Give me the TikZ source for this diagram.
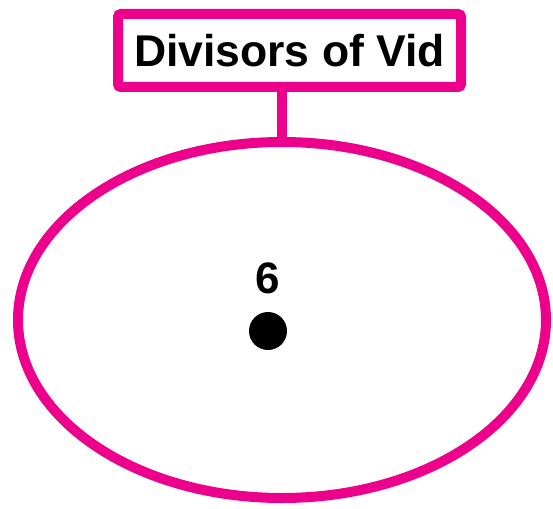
\documentclass[tikz,border=0pt]{standalone}
\usepackage{fontspec}
\setmainfont{Liberation Sans}
\usepackage{tikz}
\usetikzlibrary{shapes.geometric,positioning}
\definecolor{setpink}{RGB}{236,0,140}
\tikzset{
  base/.style={font=\fontsize{44}{48}\selectfont, align=center, inner sep=0pt, text=black},
  titlebox/.style={base, rectangle, rounded corners=3pt, draw=setpink, fill=white, line width=10pt, minimum width=343pt, minimum height=73pt, font=\fontsize{44.5}{48}\selectfont\bfseries},
  setring/.style={ellipse, draw=setpink, line width=10pt, inner sep=0pt, minimum width=528pt, minimum height=356pt},
  elem/.style={circle, fill=black, inner sep=0pt, minimum size=38pt},
  elemlbl/.style={base, font=\fontsize{44}{48}\selectfont\bfseries},
  link/.style={draw=setpink, line width=10pt},
}
\begin{document}
\begin{tikzpicture}[x=1pt,y=-1pt]
  \useasboundingbox (0,0) rectangle (553,508);
  \node[setring] (set) at (282,320) {};
  \node[titlebox] (title) at (289.5,50.5) {Divisors of Vid};
  \draw[link] (set.north) -- (set.north |- title.south);
  \node[elem] (six) at (268,331) {};
  \node[elemlbl] (sixlbl) at (268,278) {6};
\end{tikzpicture}
\end{document}
